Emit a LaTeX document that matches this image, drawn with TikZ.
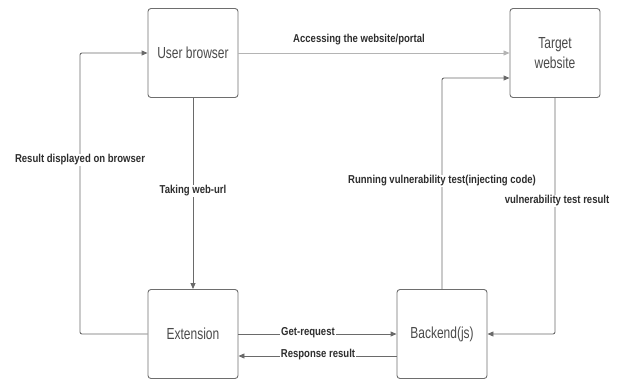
\documentclass[tikz,border=0pt]{standalone}
\usepackage{fontspec}
\setmainfont{Liberation Sans}
\newfontfamily\boxfont[FakeStretch=0.75]{Liberation Sans}
\newfontfamily\labfont[FakeStretch=0.83]{Liberation Sans}
\usetikzlibrary{arrows.meta}
\definecolor{boxline}{HTML}{6E6E6E}
\definecolor{conn}{HTML}{6A6A6A}
\definecolor{lightconn}{HTML}{B4B4B4}
\definecolor{labtxt}{HTML}{2E2E2E}
\definecolor{boxtxt}{HTML}{4A4A4A}
\tikzset{
  procbox/.style={draw=boxline, line width=0.9pt, rounded corners=3pt, minimum width=90pt, minimum height=89pt, align=center, text=boxtxt, font=\boxfont\fontsize{16}{20}\selectfont},
  lab/.style={text=labtxt, font=\labfont\bfseries\fontsize{11.5}{13}\selectfont, inner sep=1pt},
  onlab/.style={lab, fill=white},
  conline/.style={draw=conn, line width=0.9pt, -{Triangle[length=6pt,width=5pt]}},
  lightline/.style={draw=lightconn, line width=0.8pt, -{Triangle[length=6pt,width=5pt]}, color=lightconn}
}
\begin{document}
\begin{tikzpicture}[x=1pt,y=-1pt]
\useasboundingbox (0,0) rectangle (619,381);
\node[procbox] (ub) at (193,53) {User browser};
\node[procbox] (tw) at (555,53) {Target\\website};
\node[procbox] (ext) at (193,334) {Extension};
\node[procbox] (be) at (442,334) {Backend(js)};

\coordinate (rl1) at (80,334);
\coordinate (rl2) at (80,53);
\coordinate (rv1) at (442,78);
\coordinate (vr1) at (555,334);

\draw[lightline] (ub.east) -- (tw.west);
\draw[conline, rounded corners=2pt] (ext.west) -- (rl1) -- (rl2) -- (ub.west);
\draw[conline] (ub.south) -- (ext.north);
\draw[conline, rounded corners=2pt] (be.north) -- (rv1) -- (rv1 -| tw.west);
\draw[conline, rounded corners=2pt] (tw.south) -- (vr1) -- (be.east);
\draw[conline] (ext.east) -- (be.west);
\draw[conline] ([yshift=-22pt]be.west) -- ([yshift=-22pt]ext.east);

\node[lab] (lacc) at (359,40) {Accessing the website/portal};
\node[onlab] (lres) at (80,160) {Result displayed on browser};
\node[onlab] (ltak) at (193,191) {Taking web-url};
\node[onlab] (lrun) at (442,181) {Running vulnerability test(injecting code)};
\node[onlab] (lvul) at (557,201) {vulnerability test result};
\node[onlab] (lget) at (308,333) {Get-request};
\node[onlab] (lrsp) at (318,355) {Response result};
\end{tikzpicture}
\end{document}
